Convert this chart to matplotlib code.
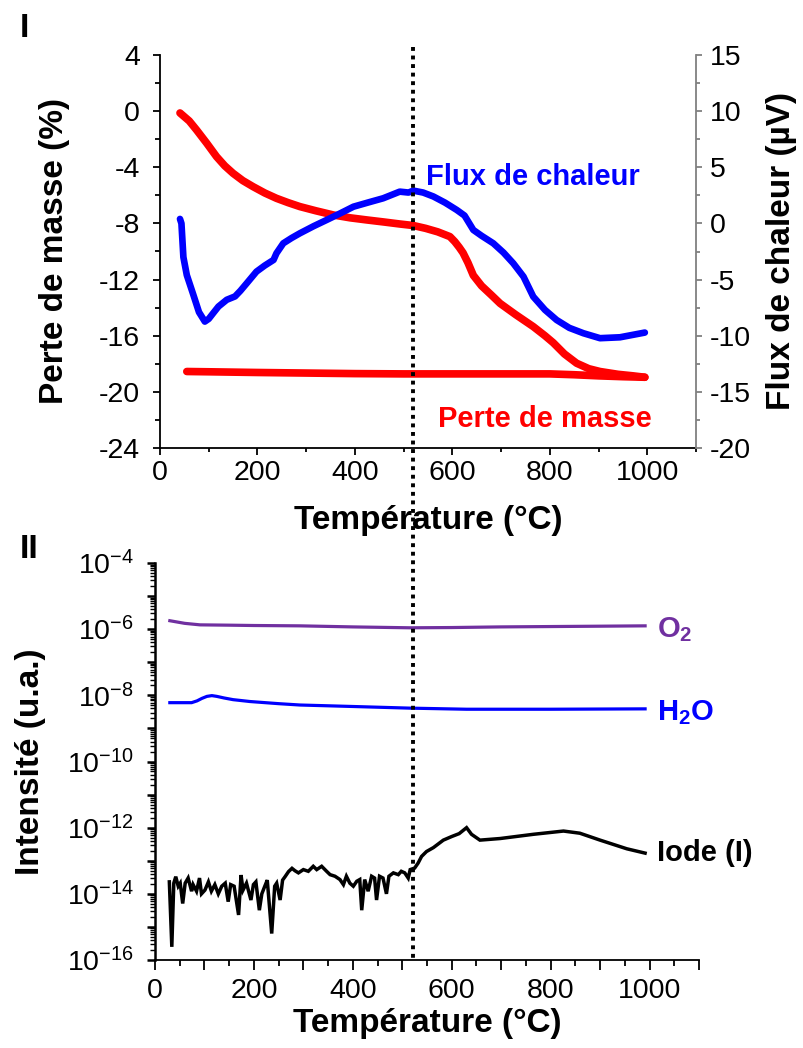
import numpy as np
import matplotlib
matplotlib.use("Agg")
import matplotlib.pyplot as plt
from matplotlib.ticker import MultipleLocator, FuncFormatter, LogLocator, NullFormatter
from matplotlib.lines import Line2D
import matplotlib.transforms as mtransforms

plt.rcParams['font.family'] = ['Liberation Sans', 'DejaVu Sans']
plt.rcParams['mathtext.fontset'] = 'custom'
plt.rcParams['mathtext.rm'] = 'Liberation Sans'
plt.rcParams['mathtext.it'] = 'Liberation Sans:italic'
plt.rcParams['mathtext.bf'] = 'Liberation Sans:bold'

# ---------------- data: panel I (TG / DSC) ----------------
mass_heat_T = [41, 60, 75, 96, 116, 133, 150, 170, 191, 215, 239, 263, 287, 320, 356, 390,
               424, 460, 492, 520, 545, 570, 595, 605, 614, 622, 632, 643, 660, 680, 698, 730,
               766, 790, 807, 830, 855, 880, 903, 940, 971, 995]
mass_heat = [-0.13, -0.7, -1.34, -2.29, -3.24, -3.9, -4.43, -4.95, -5.38, -5.83, -6.21, -6.52,
             -6.80, -7.1, -7.40, -7.6, -7.75, -7.9, -8.04, -8.15, -8.35, -8.6, -8.94, -9.3,
             -9.7, -10.1, -10.8, -11.7, -12.45, -13.1, -13.7, -14.5, -15.35, -16.0, -16.5,
             -17.3, -17.96, -18.35, -18.55, -18.75, -18.86, -18.96]
mass_cool_T = [55, 100, 200, 300, 400, 500, 600, 700, 800, 850, 900, 950, 995]
mass_cool = [-18.55, -18.57, -18.62, -18.66, -18.7, -18.72, -18.72, -18.72, -18.72, -18.78,
             -18.86, -18.92, -18.96]

flux_T = [41, 44, 48, 55, 68, 80, 92, 100, 109, 120, 137, 154, 165, 178, 198, 215, 233, 239,
          253, 270, 287, 315, 342, 370, 397, 430, 458, 492, 510, 520, 540, 561, 585, 609, 625,
          643, 660, 684, 705, 725, 746, 766, 790, 814, 840, 869, 903, 944, 995]
flux = [0.4, 0.0, -3.0, -4.6, -6.3, -7.9, -8.74, -8.5, -8.0, -7.4, -6.8, -6.5, -6.0, -5.33,
        -4.29, -3.75, -3.25, -2.66, -1.77, -1.3, -0.88, -0.25, 0.31, 0.9, 1.49, 1.9, 2.24,
        2.83, 2.75, 2.92, 2.75, 2.4, 1.85, 1.2, 0.7, -0.58, -1.1, -1.77, -2.6, -3.55, -4.74,
        -6.52, -7.7, -8.6, -9.3, -9.78, -10.22, -10.14, -9.72]

# ---------------- data: panel II (mass spectrometry) ----------------
o2_T = [30, 60, 91, 150, 200, 293, 400, 516, 600, 698, 800, 900, 991]
o2 = [1.8e-6, 1.5e-6, 1.35e-6, 1.32e-6, 1.29e-6, 1.26e-6, 1.17e-6, 1.1e-6, 1.12e-6, 1.17e-6,
      1.2e-6, 1.23e-6, 1.26e-6]

h2o_T = [30, 74, 85, 95, 105, 115, 125, 140, 158, 192, 250, 293, 400, 516, 630, 800, 991]
h2o = [6.0e-9, 6.0e-9, 6.8e-9, 8.1e-9, 9.3e-9, 9.8e-9, 9.3e-9, 8.3e-9, 7.4e-9, 6.5e-9,
       5.6e-9, 5.1e-9, 4.6e-9, 4.1e-9, 3.8e-9, 3.8e-9, 3.9e-9]

iode_T = [29, 34, 38, 42, 47, 51, 56, 61, 67, 74, 77, 84, 90, 94, 101, 108, 114, 121, 128, 135,
          142, 148, 153, 160, 169, 174, 178, 185, 194, 199, 204, 211, 216, 222, 227, 236, 242,
          246, 253, 258, 263, 270, 277, 283, 290, 300, 310, 320, 327, 337, 347, 354, 364, 374,
          381, 387, 394, 401, 408, 414, 418, 424, 431, 438, 444, 448, 454, 461, 468, 473, 482,
          492, 498, 505, 512, 516, 525, 532, 539, 549, 563, 583, 600, 615, 630, 640, 657, 698,
          765, 826, 859, 900, 954, 991]
iode = [2.3e-14, 2.5e-16, 2.1e-14, 3.3e-14, 1.7e-14, 2.1e-14, 5.1e-15, 2.1e-14, 3.0e-14,
        1.2e-14, 1.9e-14, 1.2e-14, 3.0e-14, 1.0e-14, 1.3e-14, 2.3e-14, 1.2e-14, 1.9e-14,
        1.0e-14, 1.7e-14, 2.1e-14, 5.8e-15, 1.9e-14, 1.7e-14, 2.3e-15, 3.7e-14, 1.3e-14,
        2.1e-14, 6.5e-15, 1.9e-14, 2.3e-14, 3.2e-15, 1.0e-14, 1.7e-14, 2.6e-14, 6.3e-16,
        1.7e-14, 2.1e-14, 6.5e-15, 2.6e-14, 3.3e-14, 4.7e-14, 5.9e-14, 5.0e-14, 4.3e-14,
        5.4e-14, 4.8e-14, 6.8e-14, 5.4e-14, 6.8e-14, 4.8e-14, 3.8e-14, 3.4e-14, 2.7e-14,
        1.9e-14, 3.4e-14, 2.1e-14, 1.7e-14, 2.4e-14, 2.7e-14, 3.2e-15, 2.7e-14, 1.2e-14,
        3.4e-14, 3.0e-14, 6.5e-15, 3.4e-14, 3.0e-14, 1.0e-14, 3.4e-14, 4.3e-14, 3.8e-14,
        4.8e-14, 4.3e-14, 3.0e-14, 5.4e-14, 6.0e-14, 8.5e-14, 1.35e-13, 1.9e-13, 2.5e-13,
        4.2e-13, 5.4e-13, 6.6e-13, 1.0e-12, 6.3e-13, 4.2e-13, 4.7e-13, 6.3e-13, 7.9e-13,
        6.8e-13, 4.2e-13, 2.3e-13, 1.7e-13]

transition_T = 520

# ---------------- figure ----------------
RED = '#FF0000'
BLUE = '#0000FF'
PURPLE = '#7030A0'
GRAY = '#808080'
TICK_FS = 20.5
LABEL_FS = 24
ANN_FS = 21

fig = plt.figure(figsize=(8.04, 10.48), dpi=100)
ax1 = fig.add_axes([160 / 804, 1 - 448 / 1048, 536 / 804, 393 / 1048])
ax1b = ax1.twinx()
ax2 = fig.add_axes([155 / 804, 1 - 960 / 1048, 544 / 804, 397 / 1048])

# ---- panel I ----
ax1.plot(mass_cool_T, mass_cool, color=RED, lw=5.5, solid_capstyle='round', solid_joinstyle='round')
ax1.plot(mass_heat_T, mass_heat, color=RED, lw=5.5, solid_capstyle='round', solid_joinstyle='round')
ax1b.plot(flux_T, flux, color=BLUE, lw=4.8, solid_capstyle='round', solid_joinstyle='round')

ax1.set_xlim(0, 1100)
ax1.set_ylim(-24, 4)
ax1b.set_ylim(-20, 15)
ax1.xaxis.set_major_locator(MultipleLocator(200))
ax1.xaxis.set_minor_locator(MultipleLocator(100))
ax1.xaxis.set_major_formatter(FuncFormatter(lambda v, p: f"{v:.0f}" if v <= 1000 else ""))
ax1.yaxis.set_major_locator(MultipleLocator(4))
ax1.yaxis.set_minor_locator(MultipleLocator(2))
ax1.yaxis.set_major_formatter(FuncFormatter(lambda v, p: f"{v:.0f}"))
ax1b.yaxis.set_major_locator(MultipleLocator(5))
ax1b.yaxis.set_minor_locator(MultipleLocator(2.5))
ax1b.yaxis.set_major_formatter(FuncFormatter(lambda v, p: f"{v:.0f}"))

for sp in ['top', 'right']:
    ax1.spines[sp].set_visible(False)
for sp in ['top', 'left', 'bottom']:
    ax1b.spines[sp].set_visible(False)
ax1b.spines['right'].set_color(GRAY)
ax1b.spines['right'].set_linewidth(1.3)
ax1.spines['left'].set_linewidth(1.3)
ax1.spines['bottom'].set_linewidth(1.3)

ax1.tick_params(axis='x', which='major', direction='out', length=5, width=1.3, pad=4, labelsize=TICK_FS)
ax1.tick_params(axis='x', which='minor', direction='out', length=3, width=1.3)
ax1.tick_params(axis='y', which='major', direction='out', length=5, width=1.3, pad=9.5, labelsize=TICK_FS)
ax1.tick_params(axis='y', which='minor', direction='out', length=3.5, width=1.3)
ax1b.tick_params(axis='y', which='major', direction='out', length=4, width=1.3, color=GRAY, pad=6, labelsize=TICK_FS)
ax1b.tick_params(axis='y', which='minor', direction='out', length=3, width=1.3, color=GRAY)

ax1.set_xlabel('Température (°C)', fontsize=LABEL_FS, fontweight='bold')
ax1.xaxis.set_label_coords(0.5, -0.145)
ax1.set_ylabel('Perte de masse (%)', fontsize=LABEL_FS, fontweight='bold')
ax1.yaxis.set_label_coords(-0.167, 0.5)
ax1b.set_ylabel('Flux de chaleur (µV)', fontsize=LABEL_FS, fontweight='bold')
ax1b.yaxis.set_label_coords(1.13, 0.5)

ax1.text(0.496, 0.669, 'Flux de chaleur', transform=ax1.transAxes, color=BLUE,
         fontsize=ANN_FS, fontweight='bold', ha='left', va='baseline')
ax1.text(0.5187, 0.054, 'Perte de masse', transform=ax1.transAxes, color=RED,
         fontsize=ANN_FS, fontweight='bold', ha='left', va='baseline')

# ---- panel II ----
ax2.plot(o2_T, o2, color=PURPLE, lw=2.3)
ax2.plot(h2o_T, h2o, color=BLUE, lw=2.3)
ax2.plot(iode_T, iode, color='black', lw=2.5, solid_joinstyle='miter')
ax2.set_yscale('log')
ax2.set_ylim(1e-16, 1e-4)
ax2.set_xlim(0, 1100)
ax2.xaxis.set_major_locator(MultipleLocator(100))
ax2.xaxis.set_minor_locator(MultipleLocator(50))
ax2.xaxis.set_major_formatter(FuncFormatter(
    lambda v, p: f"{v:.0f}" if (round(v) % 200 == 0 and v <= 1000) else ""))
ax2.yaxis.set_major_locator(LogLocator(base=10, numticks=30))
ax2.yaxis.set_minor_locator(LogLocator(base=10, subs=np.arange(2, 10), numticks=30))
ax2.yaxis.set_minor_formatter(NullFormatter())


def log_fmt(v, p):
    e = int(round(np.log10(v)))
    if e % 2 == 0:
        return r'$\mathregular{10^{-%d}}$' % (-e)
    return ''


ax2.yaxis.set_major_formatter(FuncFormatter(log_fmt))
for sp in ['top', 'right']:
    ax2.spines[sp].set_visible(False)
ax2.spines['left'].set_linewidth(1.8)
ax2.spines['bottom'].set_linewidth(1.3)
ax2.tick_params(axis='x', which='major', direction='out', length=7, width=1.3, pad=6, labelsize=TICK_FS)
ax2.tick_params(axis='x', which='minor', direction='out', length=4, width=1.3)
ax2.tick_params(axis='y', which='major', direction='out', length=6, width=1.8, pad=9, labelsize=TICK_FS)
ax2.tick_params(axis='y', which='minor', direction='out', length=3.5, width=1.0)

ax2.set_xlabel('Température (°C)', fontsize=LABEL_FS, fontweight='bold')
ax2.xaxis.set_label_coords(0.5, -0.12)
ax2.set_ylabel('Intensité (u.a.)', fontsize=LABEL_FS, fontweight='bold')
ax2.yaxis.set_label_coords(-0.201, 0.5)

ax2.text(0.922, 0.8136, r'O$_{\mathbf{2}}$', transform=ax2.transAxes, color=PURPLE,
         fontsize=ANN_FS, fontweight='bold', ha='left', va='baseline')
ax2.text(0.923, 0.6028, r'H$_{\mathbf{2}}$O', transform=ax2.transAxes, color=BLUE,
         fontsize=ANN_FS, fontweight='bold', ha='left', va='baseline')
ax2.text(0.923, 0.250, 'Iode (I)', transform=ax2.transAxes, color='black',
         fontsize=ANN_FS, fontweight='bold', ha='left', va='baseline')

# ---- dotted vertical line crossing both panels ----
trans = mtransforms.blended_transform_factory(ax1.transData, fig.transFigure)
vline = Line2D([transition_T, transition_T], [1 - 47 / 1048, 1 - 960 / 1048], transform=trans,
               color='black', lw=2.8, linestyle=(0, (1.0, 1.2)), dash_capstyle='butt')
fig.add_artist(vline)

# ---- panel letters ----
fig.text(19.5 / 804, 1 - 37 / 1048, 'I', fontsize=24.5, fontweight='bold', ha='left', va='baseline')
fig.text(19.5 / 804, 1 - 558 / 1048, 'II', fontsize=24.5, fontweight='bold', ha='left', va='baseline')

fig.savefig('out.png', dpi=100)
